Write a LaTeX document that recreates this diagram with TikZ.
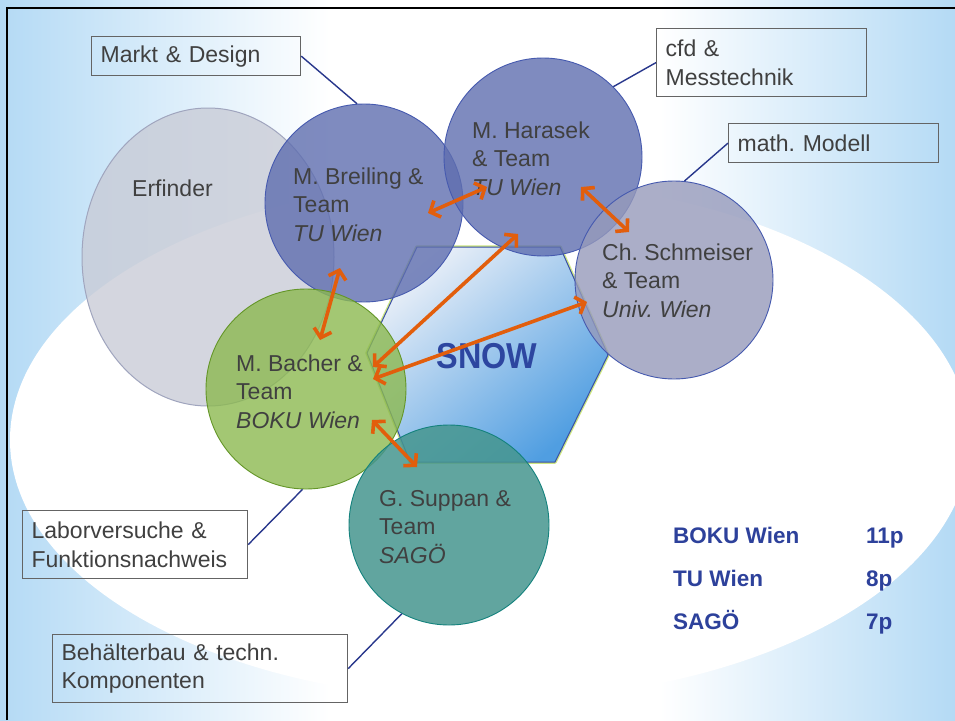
\documentclass[tikz,border=0pt]{standalone}
\usepackage{fontspec}
\setmainfont{Liberation Sans}
\usetikzlibrary{arrows.meta,shapes.geometric}
\definecolor{bgblue}{RGB}{180,218,245}
\definecolor{txtgray}{RGB}{64,64,64}
\definecolor{boxgray}{RGB}{100,100,100}
\definecolor{lineblue}{RGB}{40,55,140}
\definecolor{arrorange}{RGB}{226,94,12}
\definecolor{tblue}{RGB}{45,65,155}
\definecolor{snowblue}{RGB}{45,70,160}
\definecolor{erffill}{RGB}{200,203,214}
\definecolor{erfdraw}{RGB}{160,165,190}
\definecolor{tufill}{RGB}{95,110,175}
\definecolor{tudraw}{RGB}{70,90,175}
\definecolor{unifill}{RGB}{150,154,187}
\definecolor{bokufill}{RGB}{140,185,80}
\definecolor{bokudraw}{RGB}{100,150,40}
\definecolor{sagofill}{RGB}{70,150,143}
\definecolor{sagodraw}{RGB}{20,130,125}
\definecolor{hexlight}{RGB}{235,240,248}
\definecolor{hexmid}{RGB}{200,218,240}
\definecolor{hexblue}{RGB}{80,158,225}
\definecolor{hexdraw}{RGB}{60,80,165}
\definecolor{hexglow}{RGB}{205,230,130}
\newcommand\mylines[1]{\begin{tabular}[t]{@{}l@{}}#1\end{tabular}}
\frenchspacing
\begin{document}
\begin{tikzpicture}[x=1pt,y=-1pt,
  circ/.style={circle, inner sep=0pt, minimum size=#1, line width=0.9pt},
  ctext/.style={anchor=base west, inner sep=0pt, text=txtgray, font=\fontsize{23}{28.5}\selectfont},
  lbox/.style={draw=boxgray, line width=1.2pt, rectangle, align=left, inner xsep=9pt, inner ysep=2pt,
     anchor=north west, text=txtgray, font=\fontsize{23}{28.5}\selectfont},
  conn/.style={draw=lineblue, line width=1.4pt},
  arr/.style={draw=arrorange, line width=3.6pt, >={Straight Barb[length=8pt,width=18pt]}, <->},
  tbl/.style={anchor=base west, inner sep=0pt, text=tblue, font=\fontsize{22.5}{27}\selectfont\bfseries}
]
\useasboundingbox (0,0) rectangle (955,720);
% background
\fill[white] (0,0) rectangle (955,720);
\shade[left color=bgblue, right color=white] (0,0) rectangle (330,720);
\shade[left color=white, right color=bgblue] (660,0) rectangle (955,720);
\fill[white] (490,440) ellipse (480 and 260);
% frame
\draw[black, line width=2.5pt] (7,720) -- (7,8) -- (955,8);
% Erfinder
\node[ellipse, minimum width=252pt, minimum height=298pt, fill=erffill, fill opacity=0.78,
      draw=erfdraw, line width=1pt] (erf) at (208,257) {};
% hexagon
\draw[hexglow, line width=3.5pt, line join=round]
  (417,247) -- (560,247) -- (608,355) -- (555,462) -- (410,462) -- (367,353) -- cycle;
\shade[top color=hexlight, middle color=hexmid, bottom color=hexblue, shading angle=40]
  (417,247) -- (560,247) -- (608,355) -- (555,462) -- (410,462) -- (367,353) -- cycle;
\draw[hexdraw, line width=1pt, line join=round]
  (417,247) -- (560,247) -- (608,355) -- (555,462) -- (410,462) -- (367,353) -- cycle;
% circles
\node[circ=198pt, fill=tufill, fill opacity=0.8, draw=tudraw] (breiling) at (364,203) {};
\node[circ=198pt, fill=tufill, fill opacity=0.8, draw=tudraw] (harasek) at (543,157) {};
\node[circ=198pt, fill=unifill, fill opacity=0.8, draw=tudraw] (schm) at (674,280) {};
\node[circ=200pt, fill=bokufill, fill opacity=0.8, draw=bokudraw] (bacher) at (306,389) {};
\node[circ=200pt, fill=sagofill, fill opacity=0.85, draw=sagodraw] (suppan) at (449,525) {};
% texts
\node[ctext] (erfT) at (132,196) {Erfinder};
\node[ctext] (brT) at (293,184) {\mylines{M. Breiling \&\\ Team\\ \textit{TU Wien}}};
\node[ctext] (haT) at (472,138) {\mylines{M. Harasek\\ \& Team\\ \textit{TU Wien}}};
\node[ctext] (scT) at (602,260) {\mylines{Ch. Schmeiser\\ \& Team\\ \textit{Univ. Wien}}};
\node[ctext] (baT) at (236,371) {\mylines{M. Bacher \&\\ Team\\ \textit{BOKU Wien}}};
\node[ctext] (suT) at (379,506) {\mylines{G. Suppan \&\\ Team\\ \textit{SAGÖ}}};
\node[inner sep=0pt, text=snowblue, font=\fontsize{36}{40}\selectfont\bfseries, xscale=0.9] (snow) at (487,356) {SNOW};
% label boxes
\node[lbox, minimum width=209pt, minimum height=39pt, text width=191pt] (mkt) at (91,36) {Markt \& Design};
\node[lbox, minimum width=210pt, minimum height=68pt, text width=192pt] (cfd) at (656,28) {cfd \&\\ Messtechnik};
\node[lbox, minimum width=210pt, minimum height=39pt, text width=192pt] (math) at (728,123) {math. Modell};
\node[lbox, minimum width=225pt, minimum height=68pt, text width=207pt] (labor) at (22,510) {Laborversuche \&\\ Funktionsnachweis};
\node[lbox, minimum width=295pt, minimum height=68pt, text width=277pt] (behael) at (52,634) {Behälterbau \& techn.\\ Komponenten};
% connectors
\draw[conn] (mkt.east) -- (breiling.94);
\draw[conn] (cfd.west) -- (harasek.45);
\draw[conn] (math.west) -- (schm.84);
\draw[conn] (labor.east) -- (bacher.268);
\draw[conn] (behael.east) -- (suppan.242);
% arrow ends
\coordinate (brA) at (428,213); \coordinate (haA) at (487,187);
\coordinate (brB) at (340,268); \coordinate (baB) at (320,340);
\coordinate (haC) at (581,187); \coordinate (scC) at (629,232);
\coordinate (haD) at (518,234); \coordinate (baD) at (373,367);
\coordinate (scE) at (587,302); \coordinate (baE) at (373,379);
\coordinate (baF) at (372,420); \coordinate (suF) at (417,467);
\draw[arr] (brA) -- (haA);
\draw[arr] (brB) -- (baB);
\draw[arr] (haC) -- (scC);
\draw[arr] (haD) -- (baD);
\draw[arr] (scE) -- (baE);
\draw[arr] (baF) -- (suF);
% table
\node[tbl] (t1a) at (673,543) {BOKU Wien};
\node[tbl] (t1b) at (866,543) {11p};
\node[tbl] (t2a) at (673,586) {TU Wien};
\node[tbl] (t2b) at (866,586) {8p};
\node[tbl] (t3a) at (673,629) {SAGÖ};
\node[tbl] (t3b) at (866,629) {7p};
\end{tikzpicture}
\end{document}
